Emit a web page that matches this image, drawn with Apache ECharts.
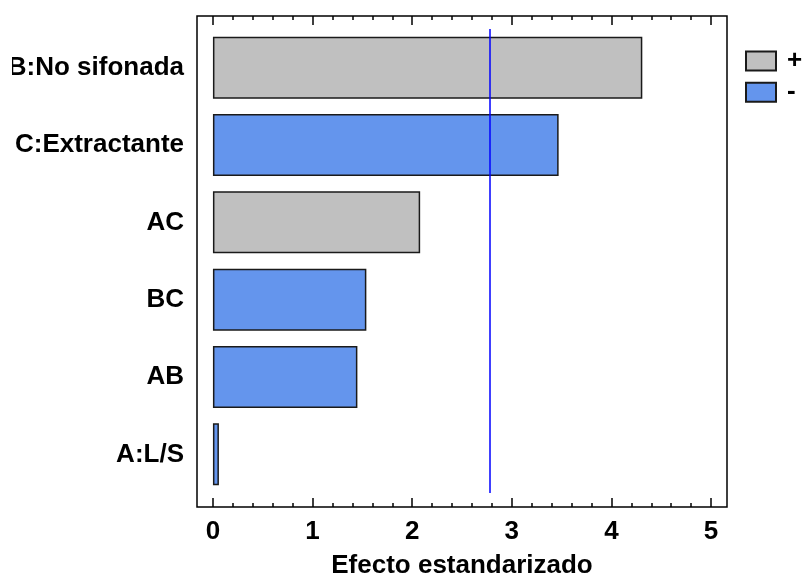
<!DOCTYPE html>
<html>
<head>
<meta charset="utf-8">
<script src="https://cdn.jsdelivr.net/npm/echarts@6/dist/echarts.min.js"></script>
<style>
  html, body { margin: 0; padding: 0; background: #ffffff; }
  #chart { width: 802px; height: 579px; }
</style>
</head>
<body>
<div id="chart"></div>
<script>
// Standardized Pareto chart of effects
const categories = ['B:No sifonada', 'C:Extractante', 'AC', 'BC', 'AB', 'A:L/S'];
const effects = [4.31, 3.47, 2.08, 1.54, 1.45, 0.06];
const signs = ['+', '-', '+', '-', '-', '-'];
const majorTicks = [0, 1, 2, 3, 4, 5];
const minorTicks = [0.2, 0.4, 0.6, 0.8, 1.2, 1.4, 1.6, 1.8, 2.2, 2.4, 2.6, 2.8,
                    3.2, 3.4, 3.6, 3.8, 4.2, 4.4, 4.6, 4.8];
const criticalValue = 2.776;

const positiveValues = effects.map((v, i) => signs[i] === '+' ? v : null);
const negativeValues = effects.map((v, i) => signs[i] === '-' ? v : null);

const FONT = 'Liberation Sans, Arial, sans-serif';
const X_MIN = -0.16, X_MAX = 5.16;

const chart = echarts.init(document.getElementById('chart'), null, { renderer: 'canvas' });

function tickAxis(gridIndex, position, values, len, withLabels) {
  return {
    type: 'value', gridIndex, position, min: X_MIN, max: X_MAX,
    axisLine: { show: false },
    splitLine: { show: false },
    axisTick: { show: true, inside: true, length: len, customValues: values,
                lineStyle: { color: '#000', width: 1.5 } },
    axisLabel: withLabels ? {
      show: true, customValues: values, margin: 12,
      fontFamily: FONT, fontSize: 26, fontWeight: 'bold', color: '#000'
    } : { show: false }
  };
}

const bottomMajor = tickAxis(0, 'bottom', majorTicks, 9, true);
bottomMajor.name = 'Efecto estandarizado';
bottomMajor.nameLocation = 'middle';
bottomMajor.nameGap = 46;
bottomMajor.nameTextStyle = { fontFamily: FONT, fontSize: 26, fontWeight: 'bold', color: '#000' };

const barStyle = (color) => ({ color, borderColor: '#1a1a1a', borderWidth: 1.5 });

chart.setOption({
  backgroundColor: '#ffffff',
  animation: false,
  grid: [
    { left: 197, right: 75, top: 16, bottom: 72, show: true, outerBoundsMode: 'none',
      containLabel: false, borderColor: '#000', borderWidth: 1.5, backgroundColor: 'transparent' },
    { left: 197, right: 75, top: 29, bottom: 86, outerBoundsMode: 'none', containLabel: false }
  ],
  legend: {
    data: ['+', '-'],
    orient: 'vertical',
    left: 745, top: 48,
    padding: 0,
    icon: 'rect',
    itemWidth: 30, itemHeight: 19, itemGap: 5.2,
    selectedMode: false,
    textStyle: { fontFamily: FONT, fontSize: 26, fontWeight: 'bold', color: '#000',
                 lineHeight: 19, padding: [0, 0, 0, 6] }
  },
  xAxis: [
    bottomMajor,
    tickAxis(0, 'bottom', minorTicks, 4, false),
    tickAxis(0, 'top', majorTicks, 9, false),
    tickAxis(0, 'top', minorTicks, 4, false),
    { type: 'value', gridIndex: 1, min: X_MIN, max: X_MAX, show: false }
  ],
  yAxis: [
    { type: 'value', gridIndex: 0, min: 0, max: 1, show: false },
    {
      type: 'category', gridIndex: 1, data: categories, inverse: true,
      axisLine: { show: false }, axisTick: { show: false }, splitLine: { show: false },
      axisLabel: { margin: 13, fontFamily: FONT, fontSize: 26, fontWeight: 'bold', color: '#000' }
    }
  ],
  series: [
    {
      name: '+', type: 'bar', xAxisIndex: 4, yAxisIndex: 1, stack: 'effect',
      data: positiveValues, barWidth: 62, itemStyle: barStyle('#c0c0c0')
    },
    {
      name: '-', type: 'bar', xAxisIndex: 4, yAxisIndex: 1, stack: 'effect',
      data: negativeValues, barWidth: 62, itemStyle: barStyle('#6495ed'),
      markLine: {
        silent: true, symbol: 'none',
        label: { show: false },
        lineStyle: { color: '#0000ff', width: 1.5, type: 'solid' },
        data: [{ xAxis: criticalValue }]
      }
    }
  ],
  graphic: [
    // narrow white margin that trims the long category labels on the left
    { type: 'rect', left: 0, top: 0, shape: { width: 12, height: 579 },
      style: { fill: '#ffffff' }, z: 100 }
  ]
});
</script>
</body>
</html>
